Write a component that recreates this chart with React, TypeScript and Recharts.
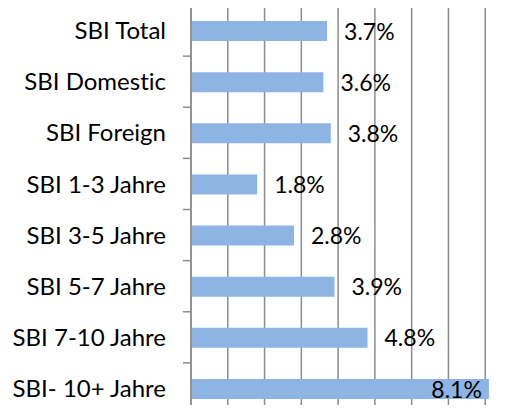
import { BarChart, Bar, XAxis, YAxis, CartesianGrid, LabelList } from "recharts";

const categories = [
  "SBI Total",
  "SBI Domestic",
  "SBI Foreign",
  "SBI 1-3 Jahre",
  "SBI 3-5 Jahre",
  "SBI 5-7 Jahre",
  "SBI 7-10 Jahre",
  "SBI- 10+ Jahre",
];
const returns = [3.7, 3.6, 3.8, 1.8, 2.8, 3.9, 4.8, 8.1];
const xTicks = [0, 1, 2, 3, 4, 5, 6, 7, 8, 9];

const data = categories.map((name, i) => ({ name, value: returns[i] }));

const CHART_W = 530;
const CHART_H = 420;
const MARGIN = { top: 4, right: 8, left: 0, bottom: 6 };
const AXIS_H = 1;
const BAND = (CHART_H - MARGIN.top - AXIS_H - MARGIN.bottom) / categories.length;
const FONT = "Lato, 'Open Sans', sans-serif";
const GRID = "#8c8c8c";
const TICK_SIZE = 8;
const TICK_MARGIN = 17;
const VISIBLE_W = 515;
const textStyle = { fontVariantLigatures: "none" as const };

function CategoryTick(props: any) {
  const { x, y, payload } = props;
  const axisX = x + TICK_MARGIN + TICK_SIZE;
  const top = y - BAND / 2;
  return (
    <g>
      <line x1={axisX - TICK_SIZE} x2={axisX} y1={top} y2={top} stroke={GRID} strokeWidth={1.5} />
      <text
        x={x}
        y={y}
        dy="0.36em"
        textAnchor="end"
        fontFamily={FONT}
        fontSize={24}
        fill="#000"
        style={textStyle}
      >
        {payload.value}
      </text>
    </g>
  );
}

function ValueLabel(props: any) {
  const { x, y, width, height, value } = props;
  const end = x + width;
  const text = `${Number(value).toFixed(1)}%`;
  const inside = end + 17 + 55 > VISIBLE_W;
  return (
    <text
      x={inside ? end - 7 : end + 17}
      y={y + height / 2}
      dy="0.38em"
      textAnchor={inside ? "end" : "start"}
      fontFamily={FONT}
      fontSize={23}
      fill="#000"
      style={textStyle}
    >
      {text}
    </text>
  );
}

export default function App() {
  return (
    <div style={{ margin: -8, width: VISIBLE_W, height: 413, overflow: "hidden", background: "#fff" }}>
      <BarChart width={CHART_W} height={CHART_H} data={data} layout="vertical" margin={MARGIN}>
        <CartesianGrid horizontal={false} vertical stroke={GRID} strokeWidth={1.5} />
        <XAxis
          type="number"
          orientation="top"
          domain={[0, 9]}
          ticks={xTicks}
          tick={() => <g />}
          tickLine={false}
          height={AXIS_H}
          axisLine={{ stroke: GRID, strokeWidth: 1.5 }}
        />
        <YAxis
          type="category"
          dataKey="name"
          width={191}
          tickLine={false}
          tickSize={TICK_SIZE}
          tickMargin={TICK_MARGIN}
          axisLine={{ stroke: GRID, strokeWidth: 1.5 }}
          tick={(p: any) => <CategoryTick {...p} />}
          interval={0}
        />
        <Bar dataKey="value" fill="#8db4e2" barSize={20} isAnimationActive={false}>
          <LabelList dataKey="value" content={(p: any) => <ValueLabel {...p} />} />
        </Bar>
      </BarChart>
    </div>
  );
}
